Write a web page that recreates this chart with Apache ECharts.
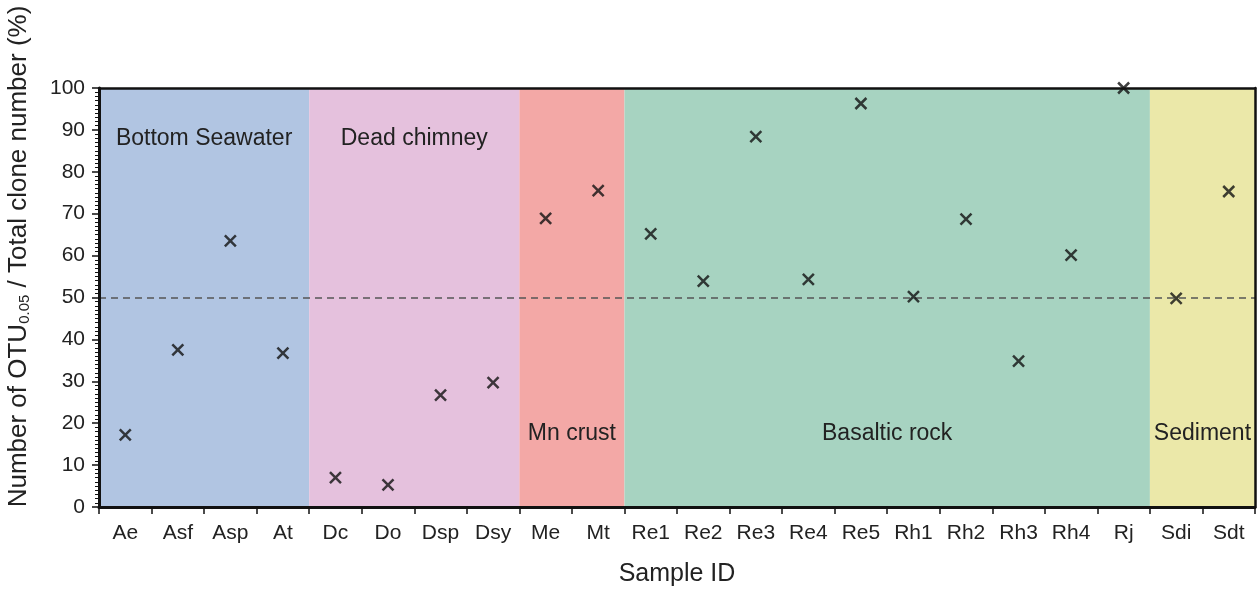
<!DOCTYPE html>
<html>
<head>
<meta charset="utf-8">
<script src="https://cdn.jsdelivr.net/npm/echarts@6/dist/echarts.min.js"></script>
<style>
html,body{margin:0;padding:0;background:#fff;}
#c{width:1257px;height:599px;}
</style>
</head>
<body>
<div id="c"></div>
<script>
const categories = ['Ae','Asf','Asp','At','Dc','Do','Dsp','Dsy','Me','Mt','Re1','Re2','Re3','Re4','Re5','Rh1','Rh2','Rh3','Rh4','Rj','Sdi','Sdt'];
const values = [17.2,37.5,63.5,36.7,7.0,5.3,26.7,29.7,68.9,75.5,65.2,53.9,88.4,54.3,96.3,50.2,68.7,34.8,60.1,100,49.8,75.3];
const yTicks = [0,10,20,30,40,50,60,70,80,90,100];
const regionNames = ['Bottom Seawater','Dead chimney','Mn crust','Basaltic rock','Sediment'];
const regionFirst = ['Ae','Dc','Me','Re1','Sdi'];
const regionLast = ['At','Dsy','Mt','Rj','Sdt'];
const referenceLevel = 50;

const regionColors = ['#b1c5e2','#e5c1dd','#f3a8a6','#a7d3c1','#ebe8a9'];
const regionLabelTop = [true,true,false,false,false];
const FONT = '"Liberation Sans", Arial, Helvetica, sans-serif';

const areaData = regionNames.map((n,i)=>{
  const s = categories.indexOf(regionFirst[i]) - 0.5;
  const e = categories.indexOf(regionLast[i]) + 0.5;
  return [{
    xAxis: s, name: n,
    itemStyle: {color: regionColors[i], opacity: 1},
    label: regionLabelTop[i]
      ? {show:true, position:'insideTop', distance:39}
      : {show:true, position:'insideBottom', distance:62}
  }, {xAxis: e}];
});

const chart = echarts.init(document.getElementById('c'), null, {renderer:'canvas'});
chart.setOption({
  animation: false,
  backgroundColor: '#fff',
  grid: {left: 99, right: 2, top: 88, bottom: 92, containLabel: false, outerBoundsMode: 'none'},
  xAxis: [{
    type: 'category',
    data: categories,
    boundaryGap: true,
    z: 10,
    name: 'Sample ID',
    nameLocation: 'middle',
    nameGap: 55,
    nameTextStyle: {fontFamily: FONT, fontSize: 25, color: '#222'},
    axisLine: {show: true, lineStyle: {color: '#111', width: 3}},
    axisTick: {show: true, inside: false, length: 7, lineStyle: {color: '#111', width: 1.5}},
    axisLabel: {fontFamily: FONT, fontSize: 21, color: '#222', margin: 16, interval: 0},
    splitLine: {show: false}
  }, {
    type: 'value',
    min: -0.5, max: categories.length - 0.5,
    position: 'top',
    z: 10,
    axisLine: {show: true, onZero: false, lineStyle: {color: '#111', width: 2.5}},
    axisTick: {show: false}, axisLabel: {show: false}, splitLine: {show: false}
  }],
  yAxis: [{
    type: 'value',
    min: 0, max: 100, interval: 10,
    z: 10,
    name: '{a|Number of OTU}{s|0.05}{a| / Total clone number (%)}',
    nameLocation: 'middle',
    nameRotate: 90,
    nameGap: 67,
    nameTextStyle: {
      padding: [0, 0, 0, 82],
      rich: {
        a: {fontFamily: FONT, fontSize: 26, color: '#222'},
        s: {fontFamily: FONT, fontSize: 15, color: '#222', verticalAlign: 'bottom', padding: [12,0,0,0]}
      }
    },
    axisLine: {show: true, onZero: false, lineStyle: {color: '#111', width: 3}},
    axisTick: {show: true, inside: false, length: 7, lineStyle: {color: '#111', width: 1.5}},
    minorTick: {show: true, splitNumber: 10, length: 4, lineStyle: {color: '#111', width: 1}},
    axisLabel: {fontFamily: FONT, fontSize: 21, color: '#222', margin: 14,
      formatter: v => yTicks.indexOf(v) >= 0 ? String(v) : ''},
    splitLine: {show: false}
  }, {
    type: 'value',
    min: 0, max: 100,
    position: 'right',
    z: 10,
    axisLine: {show: true, onZero: false, lineStyle: {color: '#111', width: 2.5}},
    axisTick: {show: false}, axisLabel: {show: false}, splitLine: {show: false}
  }],
  series: [{
    type: 'scatter',
    xAxisIndex: 1,
    yAxisIndex: 0,
    data: [[0, 0]],
    symbolSize: 0,
    silent: true,
    z: 1,
    markArea: {
      silent: true,
      z: 1,
      label: {fontFamily: FONT, fontSize: 23, color: '#222'},
      data: areaData
    }
  }, {
    type: 'scatter',
    xAxisIndex: 0,
    yAxisIndex: 0,
    data: values,
    symbol: 'path://M0,0L10,10M10,0L0,10',
    symbolSize: 11,
    clip: false,
    z: 5,
    itemStyle: {color: 'rgba(0,0,0,0)', borderColor: '#111', borderWidth: 2.5},
    markLine: {
      silent: true,
      symbol: ['none','none'],
      label: {show: false},
      z: 3,
      lineStyle: {color: '#555', width: 1.6, type: [7,5]},
      data: [{yAxis: referenceLevel}]
    }
  }]
});
</script>
</body>
</html>
